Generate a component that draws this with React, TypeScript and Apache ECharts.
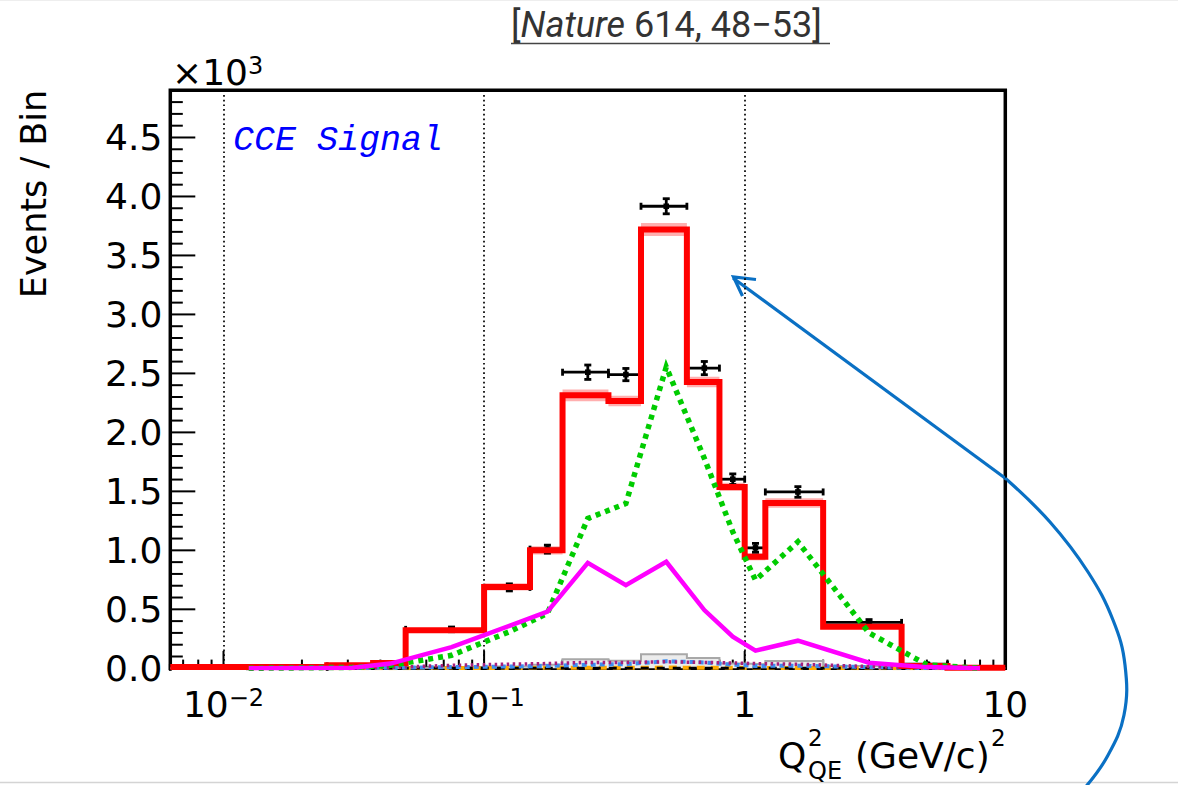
import React, { useEffect, useRef } from "react";
import * as echarts from "echarts";

// ---- data ----
const EDGES = [0, 0.025, 0.0375, 0.05, 0.1, 0.15, 0.2, 0.3, 0.4, 0.6, 0.8, 1.0, 1.2, 2.0, 4.0, 6.0, 10.0];
const DATA = [0.008, 0.02, 0.034, 0.33, 0.686, 1.01, 2.51, 2.49, 3.917, 2.545, 1.603, 1.021, 1.495, 0.389, 0.035, null];
const DATA_ERR = [0.005, 0.006, 0.008, 0.02, 0.03, 0.034, 0.061, 0.052, 0.064, 0.056, 0.045, 0.038, 0.045, 0.024, 0.008, 0];
const MC = [0.012, 0.026, 0.045, 0.322, 0.69, 1.0, 2.314, 2.266, 3.72, 2.427, 1.538, 0.945, 1.402, 0.352, 0.02, 0.005];
const MC_ERR = [0.004, 0.005, 0.008, 0.02, 0.03, 0.035, 0.05, 0.045, 0.056, 0.045, 0.035, 0.03, 0.04, 0.015, 0.005, 0.002];
const GREEN = [0.0, 0.008, 0.025, 0.11, 0.31, 0.466, 1.27, 1.397, 2.554, 1.78, 1.157, 0.748, 1.072, 0.3, 0.03, 0.0];
const MAGENTA = [0.0, 0.005, 0.04, 0.18, 0.36, 0.48, 0.894, 0.705, 0.903, 0.494, 0.268, 0.15, 0.234, 0.047, 0.01, 0.0];
const GRAY = [0, 0, 0.003, 0.008, 0.015, 0.03, 0.076, 0.064, 0.12, 0.088, 0.04, 0.035, 0.062, 0.02, 0.003, 0];
const PURPLE = [0, 0.003, 0.008, 0.025, 0.035, 0.04, 0.05, 0.05, 0.055, 0.05, 0.045, 0.04, 0.035, 0.015, 0.004, 0];
const BLUE = [0, 0.002, 0.005, 0.01, 0.015, 0.02, 0.03, 0.035, 0.06, 0.05, 0.03, 0.02, 0.022, 0.01, 0.002, 0];
const ORANGE = [0, 0, 0.001, 0.002, 0.003, 0.004, 0.005, 0.005, 0.006, 0.005, 0.004, 0.003, 0.003, 0.001, 0, 0];
const BLACK_DASH = [0, 0, 0, 0, 0, 0, 0, 0, 0, 0, 0, 0, 0, 0, 0, 0];

const Y_TICKS = [0, 0.5, 1.0, 1.5, 2.0, 2.5, 3.0, 3.5, 4.0, 4.5];
const X_DECADES = [0.01, 0.1, 1, 10];
const X_MIN = 0.00625;
const X_MAX = 10;
const Y_MAX = 4.9;

const FONT = "DejaVu Sans";

const CENTERS = EDGES.slice(0, -1).map((e, i) => (e + EDGES[i + 1]) / 2);
const lo = (i: number) => Math.max(EDGES[i], X_MIN);
const stepData = (vals: number[]) => {
  const pts: number[][] = vals.map((v, i) => [lo(i), v]);
  pts.push([EDGES[EDGES.length - 1], vals[vals.length - 1]]);
  return pts;
};
const curveData = (vals: number[]) => vals.map((v, i) => [CENTERS[i], v]);

// tick marks (positions derived from axis tick values)
const xTickData: number[][] = [];
X_DECADES.forEach((d) => {
  if (d > X_MIN && d < X_MAX) xTickData.push([d, 0, 1]);
});
for (let p = -3; p <= 0; p++) {
  for (let k = 2; k <= 9; k++) {
    const v = k * Math.pow(10, p);
    if (v > X_MIN && v < X_MAX) xTickData.push([v, 0, 0]);
  }
}
const yTickData: number[][] = [];
Y_TICKS.forEach((t) => yTickData.push([X_MIN, t, 1]));
for (let i = 0; i < Y_TICKS.length; i++) {
  for (let k = 1; k <= 4; k++) {
    const v = Math.round((Y_TICKS[i] + k * 0.1) * 10) / 10;
    if (v < Y_MAX) yTickData.push([X_MIN, v, 0]);
  }
}

const ARROW = "#0a70c4";

export default function App() {
  const ref = useRef<HTMLDivElement>(null);
  useEffect(() => {
    if (!ref.current) return;
    const chart = echarts.init(ref.current, undefined, { renderer: "svg" });
    const lineSeries = (data: number[][], color: string, width: number, type: any, extra: any = {}) => ({
      type: "line",
      data,
      showSymbol: false,
      symbol: "none",
      silent: true,
      lineStyle: { color, width, type, join: "miter" },
      ...extra,
    });
    chart.setOption({
      animation: false,
      backgroundColor: "#fff",
      grid: {
        left: 170.3,
        right: 172.7,
        top: 90.3,
        bottom: 116.7,
        show: true,
        borderColor: "#000",
        borderWidth: 3.5,
        backgroundColor: "transparent",
      },
      xAxis: {
        type: "log",
        logBase: 10,
        min: X_MIN,
        max: X_MAX,
        axisLine: { show: false },
        axisTick: { show: false },
        splitLine: { show: true, lineStyle: { color: "#000", width: 1.7, type: [1.7, 3] } },
        axisLabel: {
          show: true,
          showMinLabel: false,
          fontFamily: FONT,
          fontSize: 36,
          color: "#000",
          margin: 18,
          formatter: (v: number) => {
            const l = Math.log10(v);
            const e = Math.round(l);
            if (Math.abs(l - e) > 1e-6) return "";
            if (e >= 0) return String(Math.round(Math.pow(10, e)));
            return "10{sup|\u2212" + -e + "}";
          },
          rich: {
            sup: { fontSize: 24, verticalAlign: "top", fontFamily: FONT, color: "#000" },
          },
        },
      },
      yAxis: {
        type: "value",
        min: 0,
        max: Y_MAX,
        interval: 0.5,
        axisLine: { show: false },
        axisTick: { show: false },
        splitLine: { show: false },
        axisLabel: {
          fontFamily: FONT,
          fontSize: 36,
          color: "#000",
          margin: 8,
          formatter: (v: number) => (v > Y_MAX - 0.2 ? "" : v.toFixed(1)),
        },
      },
      series: [
        lineSeries(stepData(GRAY), "#a8a8a8", 2, "solid", {
          step: "end",
          areaStyle: { color: "#ececec", opacity: 1 },
        }),
        lineSeries(curveData(ORANGE), "#ffaa00", 4, [8, 6]),
        lineSeries(curveData(BLACK_DASH), "#000", 3, [8, 8], { lineStyle: { color: "#000", width: 3, type: [8, 8], dashOffset: 8 } }),
        lineSeries(curveData(BLUE), "#3d8ef0", 4, [5, 4]),
        lineSeries(curveData(PURPLE), "#a8207a", 3.5, [2.5, 3.5]),
        {
          type: "custom",
          silent: true,
          data: MC.map((v, i) => [lo(i), EDGES[i + 1], v, MC_ERR[i]]),
          renderItem: (params: any, api: any) => {
            const l = api.value(0);
            const h = api.value(1);
            const v = api.value(2);
            const e = api.value(3);
            const p1 = api.coord([l, v + e]);
            const p2 = api.coord([h, Math.max(v - e, 0)]);
            return {
              type: "rect",
              shape: { x: p1[0], y: p1[1], width: p2[0] - p1[0], height: p2[1] - p1[1] },
              style: { fill: "rgba(255,110,110,0.55)" },
            };
          },
        },
        lineSeries(stepData(MC), "#ff0000", 6, "solid", { step: "end" }),
        lineSeries(curveData(GREEN), "#00cc00", 5.5, [5, 5]),
        lineSeries(curveData(MAGENTA), "#ff00ff", 4.5, "solid"),
        {
          type: "custom",
          silent: true,
          data: xTickData,
          renderItem: (params: any, api: any) => {
            const p = api.coord([api.value(0), 0]);
            const len = api.value(2) ? 17.4 : 8.7;
            return {
              type: "line",
              shape: { x1: p[0], y1: p[1], x2: p[0], y2: p[1] - len },
              style: { stroke: "#000", lineWidth: 2 },
            };
          },
        },
        {
          type: "custom",
          silent: true,
          data: yTickData,
          renderItem: (params: any, api: any) => {
            const p = api.coord([api.value(0), api.value(1)]);
            const len = api.value(2) ? 25 : 12.5;
            return {
              type: "line",
              shape: { x1: p[0], y1: p[1], x2: p[0] + len, y2: p[1] },
              style: { stroke: "#000", lineWidth: 2 },
            };
          },
        },
        {
          type: "custom",
          silent: true,
          data: DATA.map((v, i) => (v === null ? null : [CENTERS[i], v, lo(i), EDGES[i + 1], DATA_ERR[i]])).filter(
            (d) => d !== null
          ),
          renderItem: (params: any, api: any) => {
            const c = api.value(0);
            const v = api.value(1);
            const l = api.value(2);
            const h = api.value(3);
            const e = api.value(4);
            const pc = api.coord([c, v]);
            const pl = api.coord([l, v]);
            const ph = api.coord([h, v]);
            const pt = api.coord([c, v + e]);
            const pb = api.coord([c, v - e]);
            const cap = 3.5;
            const m = 2.8;
            const ls = { stroke: "#000", lineWidth: 2.8 };
            return {
              type: "group",
              children: [
                { type: "line", shape: { x1: pl[0], y1: pc[1], x2: ph[0], y2: pc[1] }, style: ls },
                { type: "line", shape: { x1: pl[0], y1: pc[1] - cap, x2: pl[0], y2: pc[1] + cap }, style: ls },
                { type: "line", shape: { x1: ph[0], y1: pc[1] - cap, x2: ph[0], y2: pc[1] + cap }, style: ls },
                { type: "line", shape: { x1: pc[0], y1: pt[1], x2: pc[0], y2: pb[1] }, style: ls },
                { type: "line", shape: { x1: pc[0] - cap, y1: pt[1], x2: pc[0] + cap, y2: pt[1] }, style: ls },
                { type: "line", shape: { x1: pc[0] - cap, y1: pb[1], x2: pc[0] + cap, y2: pb[1] }, style: ls },
                { type: "rect", shape: { x: pc[0] - m, y: pc[1] - m, width: 2 * m, height: 2 * m }, style: { fill: "#000" } },
              ],
            };
          },
        },
      ],
      graphic: [
        { type: "line", shape: { x1: 0, y1: 0.5, x2: 1178, y2: 0.5 }, style: { stroke: "#eeeeee", lineWidth: 1 } },
        { type: "line", shape: { x1: 0, y1: 782.5, x2: 1178, y2: 782.5 }, style: { stroke: "#d4d4d4", lineWidth: 1.5 } },
        {
          type: "text",
          x: 511,
          y: 25,
          style: {
            text: "[{i|Nature} 614, 48\u221253]",
            fontFamily: "Roboto",
            fontSize: 36,
            fill: "#333",
            verticalAlign: "middle",
            rich: { i: { fontStyle: "italic", fontFamily: "Roboto", fontSize: 36, fill: "#333" } },
          },
        },
        { type: "line", shape: { x1: 511, y1: 43.5, x2: 830, y2: 43.5 }, style: { stroke: "#444", lineWidth: 1.5 } },
        {
          type: "text",
          x: 233,
          y: 141,
          style: {
            text: "CCE Signal",
            fontFamily: "Liberation Mono",
            fontStyle: "italic",
            fontSize: 35,
            fill: "#0000ff",
            verticalAlign: "middle",
          },
        },
        {
          type: "text",
          x: 172,
          y: 72,
          style: {
            text: "\u00d710{s|3}",
            fontFamily: FONT,
            fontSize: 36,
            fill: "#000",
            verticalAlign: "middle",
            rich: { s: { fontSize: 24, verticalAlign: "top", fontFamily: FONT, fill: "#000" } },
          },
        },
        {
          type: "text",
          x: 34,
          y: 194,
          rotation: Math.PI / 2,
          style: { text: "Events / Bin", fontFamily: FONT, fontSize: 35, fill: "#000", align: "center", verticalAlign: "middle" },
        },
        { type: "text", x: 778, y: 755, style: { text: "Q", fontFamily: FONT, fontSize: 36, fill: "#000", verticalAlign: "middle" } },
        { type: "text", x: 808, y: 738, style: { text: "2", fontFamily: FONT, fontSize: 23, fill: "#000", verticalAlign: "middle" } },
        { type: "text", x: 808, y: 771, style: { text: "QE", fontFamily: FONT, fontSize: 24, fill: "#000", verticalAlign: "middle" } },
        { type: "text", x: 855, y: 755, style: { text: "(GeV/c)", fontFamily: FONT, fontSize: 36, fill: "#000", verticalAlign: "middle" } },
        { type: "text", x: 991, y: 738, style: { text: "2", fontFamily: FONT, fontSize: 23, fill: "#000", verticalAlign: "middle" } },
        { type: "line", shape: { x1: 733, y1: 278, x2: 1005, y2: 478 }, style: { stroke: ARROW, lineWidth: 3.2 } },
        {
          type: "polyline",
          shape: {
            points: [
              [1005, 478],
              [1050, 522],
              [1088, 572],
              [1113, 620],
              [1125, 665],
              [1124, 715],
              [1107, 757],
              [1083, 790],
            ],
            smooth: 0.4,
          },
          style: { stroke: ARROW, lineWidth: 3.2, fill: "none" },
        },
        {
          type: "polyline",
          shape: { points: [[756, 279.5], [733.5, 277], [742.5, 296]] },
          style: { stroke: ARROW, lineWidth: 3.2, fill: "none" },
        },
      ],
    });
    return () => chart.dispose();
  }, []);
  return <div ref={ref} style={{ position: "absolute", left: 0, top: 0, width: 1178, height: 785 }} />;
}
